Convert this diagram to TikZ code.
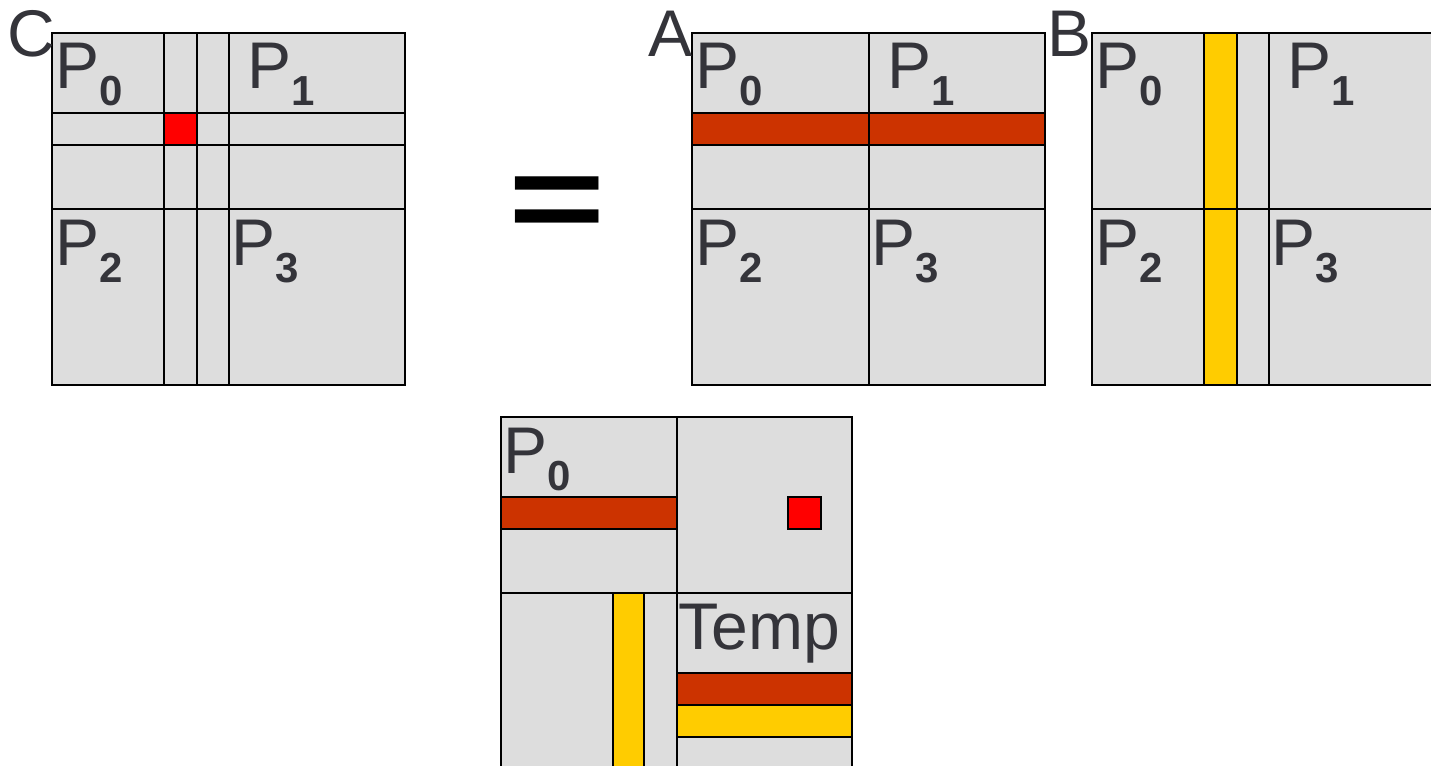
\documentclass[tikz,border=0pt]{standalone}
\usepackage{fontspec}
\setmainfont{Liberation Sans}
\definecolor{mgray}{RGB}{221,221,221}
\definecolor{txt}{RGB}{52,52,58}
\definecolor{rowc}{RGB}{204,51,0}
\definecolor{colc}{RGB}{255,204,0}
\definecolor{cellc}{RGB}{255,0,0}
\tikzset{
  mat/.style={fill=mgray,draw=black,line width=2.3pt},
  grid/.style={draw=black,line width=1.8pt},
  rowband/.style={fill=rowc,draw=black,line width=1.8pt},
  colband/.style={fill=colc,draw=black,line width=1.8pt},
  cellbox/.style={fill=cellc,draw=black,line width=1.8pt},
  lbl/.style={anchor=base west,inner sep=0pt,text=txt,font=\fontsize{66}{66}\selectfont},
}
\newcommand{\Psub}[1]{P\raisebox{-17pt}{\fontsize{42}{42}\selectfont\bfseries #1}}
\begin{document}
\begin{tikzpicture}[x=1pt,y=-1pt]
\useasboundingbox (0,0) rectangle (1431,765);
\clip (0,0) rectangle (1431,765);
% ---------- C ----------
\draw[mat] (52,33) rectangle (405,385);
\draw[cellbox] (164.3,113.3) rectangle (196.7,145);
\draw[grid] (164.3,33) -- (164.3,385);
\draw[grid] (196.7,33) -- (196.7,385);
\draw[grid] (228.7,33) -- (228.7,385);
\draw[grid] (52,113.3) -- (405,113.3);
\draw[grid] (52,145) -- (405,145);
\draw[grid] (52,209) -- (405,209);
\draw[mat,fill=none] (52,33) rectangle (405,385);
\node[lbl] (cP0) at (55,89) {\Psub{0}};
\node[lbl] (cP1) at (247,89) {\Psub{1}};
\node[lbl] (cP2) at (55,265) {\Psub{2}};
\node[lbl] (cP3) at (231,265) {\Psub{3}};
\node[lbl] (labC) at (7,57) {C};
% ---------- = ----------
\node[anchor=base west,inner sep=0pt,font=\fontsize{140}{140}\selectfont\bfseries] (eq) at (508.5,240.5) {\scalebox{1.19}[0.875]{=}};
% ---------- A ----------
\draw[mat] (692.3,33) rectangle (1045,385);
\draw[rowband] (692.3,113.3) rectangle (1045,145);
\draw[grid] (868.7,33) -- (868.7,385);
\draw[grid] (692.3,209) -- (1045,209);
\draw[mat,fill=none] (692.3,33) rectangle (1045,385);
\node[lbl] (aP0) at (695,89) {\Psub{0}};
\node[lbl] (aP1) at (887,89) {\Psub{1}};
\node[lbl] (aP2) at (695,265) {\Psub{2}};
\node[lbl] (aP3) at (871,265) {\Psub{3}};
\node[lbl] (labA) at (648,57) {A};
% ---------- B ----------
\draw[mat] (1092.3,33) rectangle (1445,385);
\draw[colband] (1204.3,33) rectangle (1236.7,385);
\draw[grid] (1268.7,33) -- (1268.7,385);
\draw[grid] (1092.3,209) -- (1445,209);
\draw[mat,fill=none] (1092.3,33) rectangle (1445,385);
\node[lbl] (bP0) at (1095,89) {\Psub{0}};
\node[lbl] (bP1) at (1287,89) {\Psub{1}};
\node[lbl] (bP2) at (1095,265) {\Psub{2}};
\node[lbl] (bP3) at (1271,265) {\Psub{3}};
\node[lbl] (labB) at (1047,57) {B};
% ---------- bottom ----------
\draw[mat] (500.7,417.3) rectangle (852.3,770);
\draw[rowband] (500.7,497.3) rectangle (676.7,529);
\draw[cellbox] (788.3,497.3) rectangle (821,529);
\draw[colband] (612.7,592.7) rectangle (644.3,775);
\draw[rowband] (676.7,672.7) rectangle (852.3,704.7);
\draw[colband] (676.7,704.7) rectangle (852.3,736.7);
\draw[grid] (676.7,417.3) -- (676.7,770);
\draw[grid] (500.7,592.7) -- (852.3,592.7);
\draw[mat,fill=none] (500.7,417.3) rectangle (852.3,770);
\node[lbl] (dP0) at (503,473.3) {\Psub{0}};
\node[lbl] (temp) at (678.5,649) {Temp};
\end{tikzpicture}
\end{document}
